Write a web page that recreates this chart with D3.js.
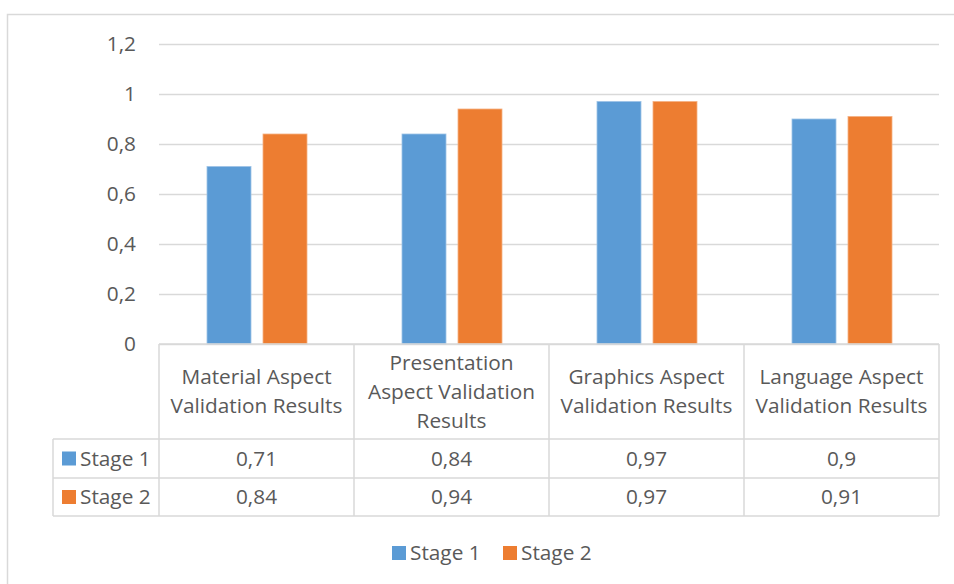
<!DOCTYPE html>
<html>
<head>
<meta charset="utf-8">
<script src="https://cdn.jsdelivr.net/npm/d3@7"></script>
<style>
  html, body { margin: 0; padding: 0; background: #fff; }
  svg { display: block; font-family: "Open Sans", Lato, sans-serif; }
</style>
</head>
<body>
<svg id="chart" width="954" height="584"></svg>
<script>
// Validation results per aspect, two stages
const categories = [
  ["Material Aspect", "Validation Results"],
  ["Presentation", "Aspect Validation", "Results"],
  ["Graphics Aspect", "Validation Results"],
  ["Language Aspect", "Validation Results"]
];
const seriesNames = ["Stage 1", "Stage 2"];
const stage1 = [0.71, 0.84, 0.97, 0.9];
const stage2 = [0.84, 0.94, 0.97, 0.91];
const yTicks = [0, 0.2, 0.4, 0.6, 0.8, 1, 1.2];
const colors = ["#5b9bd5", "#ed7d31"];

const series = [stage1, stage2];
const fmt = v => String(v).replace(".", ",");

const svg = d3.select("#chart");
const textColor = "#595959";
const gridColor = "#d9d9d9";
const fontSize = 20.8;

// Chart frame
svg.append("rect")
  .attr("x", 7.5).attr("y", 14.5)
  .attr("width", 960).attr("height", 600)
  .attr("fill", "none").attr("stroke", gridColor).attr("stroke-width", 1.5);

const plot = { left: 159, right: 939, top: 44, bottom: 344 };

const x0 = d3.scaleBand()
  .domain(d3.range(categories.length))
  .range([plot.left, plot.right]);

const groupWidth = 100;
const x1 = d3.scaleBand()
  .domain(d3.range(seriesNames.length))
  .range([(x0.bandwidth() - groupWidth) / 2 + 0.5, (x0.bandwidth() + groupWidth) / 2 + 0.5])
  .paddingInner(0.2143);

const y = d3.scaleLinear().domain([0, 1.2]).range([plot.bottom, plot.top]);

// Gridlines and value axis
const yAxis = d3.axisLeft(y)
  .tickValues(yTicks)
  .tickSize(-(plot.right - plot.left))
  .tickPadding(23)
  .tickFormat(fmt);

const gy = svg.append("g")
  .attr("transform", `translate(${plot.left},0)`)
  .call(yAxis);
gy.select(".domain").remove();
gy.selectAll(".tick line").attr("stroke", gridColor).attr("stroke-width", 1.5);
gy.selectAll(".tick text")
  .attr("fill", textColor)
  .attr("font-size", fontSize)
  .attr("font-family", "'Open Sans', sans-serif");

// Bars
const groups = svg.append("g").selectAll("g")
  .data(categories.map((c, i) => i))
  .join("g")
  .attr("transform", i => `translate(${x0(i)},0)`);

groups.selectAll("rect")
  .data(i => series.map((s, k) => ({ k, v: s[i] })))
  .join("rect")
  .attr("x", d => x1(d.k))
  .attr("width", x1.bandwidth())
  .attr("y", d => y(d.v))
  .attr("height", d => y(0) - y(d.v))
  .attr("fill", d => colors[d.k])
  .attr("stroke", d => d.k === 0 ? "#9dc3e6" : "#f4b183")
  .attr("stroke-width", 0.8);

// Data table below the plot
const table = { left: 53, headerBottom: 439, rows: [439, 478, 516] };
const tg = svg.append("g")
  .attr("stroke", gridColor).attr("stroke-width", 1.5).attr("fill", "none");

// horizontal lines
tg.append("line").attr("x1", plot.left).attr("x2", plot.right).attr("y1", plot.bottom).attr("y2", plot.bottom);
table.rows.forEach(r => {
  tg.append("line").attr("x1", table.left).attr("x2", plot.right).attr("y1", r).attr("y2", r);
});
// vertical lines
tg.append("line").attr("x1", table.left).attr("x2", table.left)
  .attr("y1", table.rows[0]).attr("y2", table.rows[2]);
d3.range(categories.length + 1).forEach(i => {
  const xx = i < categories.length ? x0(i) : plot.right;
  tg.append("line").attr("x1", xx).attr("x2", xx)
    .attr("y1", plot.bottom).attr("y2", table.rows[2]);
});

// Category header text
const lineH = 29;
const headerMid = (plot.bottom + table.headerBottom) / 2;
categories.forEach((lines, i) => {
  const cx = x0(i) + x0.bandwidth() / 2;
  const t = svg.append("text")
    .attr("text-anchor", "middle")
    .attr("fill", textColor)
    .attr("font-size", fontSize);
  lines.forEach((ln, j) => {
    t.append("tspan")
      .attr("x", cx)
      .attr("y", headerMid + (j - (lines.length - 1) / 2) * lineH)
      .attr("dy", "0.35em")
      .text(ln);
  });
});

// Value rows
seriesNames.forEach((name, k) => {
  const cy = (table.rows[k] + table.rows[k + 1]) / 2;
  svg.append("rect")
    .attr("x", 62).attr("y", cy - 7)
    .attr("width", 14).attr("height", 14)
    .attr("fill", colors[k]);
  svg.append("text")
    .attr("x", 80).attr("y", cy).attr("dy", "0.35em")
    .attr("fill", textColor).attr("font-size", fontSize)
    .text(name);
  series[k].forEach((v, i) => {
    svg.append("text")
      .attr("x", x0(i) + x0.bandwidth() / 2)
      .attr("y", cy).attr("dy", "0.35em")
      .attr("text-anchor", "middle")
      .attr("fill", textColor).attr("font-size", fontSize)
      .text(fmt(v));
  });
});

// Legend
const legend = svg.append("g").attr("transform", "translate(392,553)");
const legendX = [0, 111];
seriesNames.forEach((name, k) => {
  const g = legend.append("g").attr("transform", `translate(${legendX[k]},0)`);
  g.append("rect").attr("x", 0).attr("y", -7).attr("width", 14).attr("height", 14)
    .attr("fill", colors[k]);
  g.append("text").attr("x", 18).attr("y", 0).attr("dy", "0.35em")
    .attr("fill", textColor).attr("font-size", fontSize).text(name);
});
</script>
</body>
</html>
